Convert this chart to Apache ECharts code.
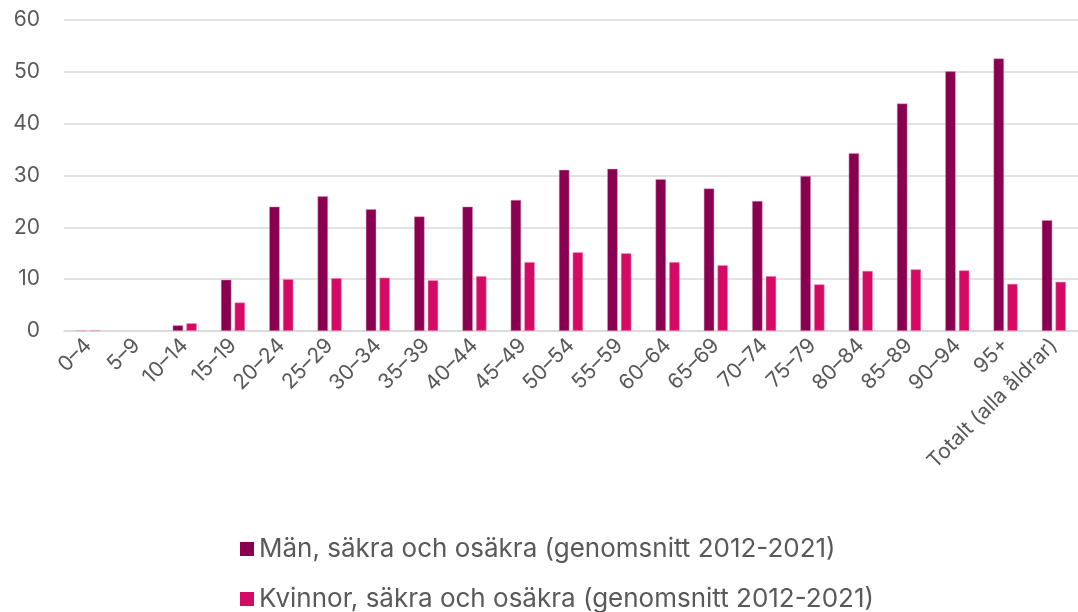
<!DOCTYPE html>
<html>
<head>
<meta charset="utf-8">
<script src="https://cdn.jsdelivr.net/npm/echarts@6/dist/echarts.min.js"></script>
<style>
* { margin: 0; padding: 0; }
#chart-container { width: 1078px; height: 612px; background: #fff; }
</style>
</head>
<body>
<div id="chart-container"></div>
<script>
const categories = ['0–4', '5–9', '10–14', '15–19', '20–24', '25–29', '30–34', '35–39', '40–44', '45–49',
  '50–54', '55–59', '60–64', '65–69', '70–74', '75–79', '80–84', '85–89', '90–94', '95+', 'Totalt (alla åldrar)']
const menValues = [0.1, 0, 1.1, 9.9, 24.0, 26.0, 23.5, 22.1, 24.0, 25.3,
  31.1, 31.3, 29.3, 27.5, 25.1, 29.9, 34.3, 43.9, 50.1, 52.6, 21.4]
const womenValues = [0.15, 0, 1.5, 5.5, 10.0, 10.2, 10.3, 9.8, 10.6, 13.3,
  15.2, 15.0, 13.3, 12.7, 10.6, 9.0, 11.6, 11.9, 11.7, 9.1, 9.5]
const seriesNames = ['Män, säkra och osäkra (genomsnitt 2012-2021)', 'Kvinnor, säkra och osäkra (genomsnitt 2012-2021)']
const yTicks = [0, 10, 20, 30, 40, 50, 60]

const chartDom = document.getElementById('chart-container')
const myChart = echarts.init(chartDom)
const font = 'Inter, "Noto Sans", sans-serif'

// zero bars get no outline, so nothing is drawn for them
const toItems = (values) => values.map(v => v === 0 ? { value: v, itemStyle: { borderWidth: 0 } } : v)

const legendBase = {
  left: 240,
  itemWidth: 14,
  itemHeight: 14,
  icon: 'rect',
  padding: 0,
  itemStyle: { borderWidth: 0 },
  textStyle: { color: '#595959', fontSize: 26, fontFamily: font }
}

const option = {
  animation: false,
  textStyle: { fontFamily: font },
  grid: { left: 64, right: -1, top: 20, bottom: 281, containLabel: false },
  legend: [
    Object.assign({}, legendBase, { top: 536, data: [seriesNames[0]] }),
    Object.assign({}, legendBase, { top: 586, data: [seriesNames[1]] })
  ],
  xAxis: {
    type: 'category',
    data: categories,
    axisTick: { show: false },
    axisLine: { show: true, lineStyle: { color: '#d9d9d9', width: 1.5 } },
    axisLabel: {
      interval: 0,
      rotate: 45,
      color: '#595959',
      fontSize: 21,
      margin: 11,
      fontFamily: font
    }
  },
  yAxis: {
    type: 'value',
    min: yTicks[0],
    max: yTicks[yTicks.length - 1],
    interval: 10,
    axisLine: { show: false },
    axisTick: { show: false },
    splitLine: { lineStyle: { color: '#d9d9d9', width: 1.5 } },
    axisLabel: { color: '#595959', fontSize: 21, margin: 24, fontFamily: font }
  },
  series: [
    {
      name: seriesNames[0],
      type: 'bar',
      data: toItems(menValues),
      barWidth: 10.5,
      barGap: '30%',
      itemStyle: { color: '#8a0050', borderColor: 'rgba(220,150,190,0.8)', borderWidth: 0.6 }
    },
    {
      name: seriesNames[1],
      type: 'bar',
      data: toItems(womenValues),
      barWidth: 10.5,
      itemStyle: { color: '#d40a64', borderColor: 'rgba(245,150,190,0.9)', borderWidth: 0.6 }
    }
  ]
}

myChart.setOption(option, true)
</script>
</body>
</html>
